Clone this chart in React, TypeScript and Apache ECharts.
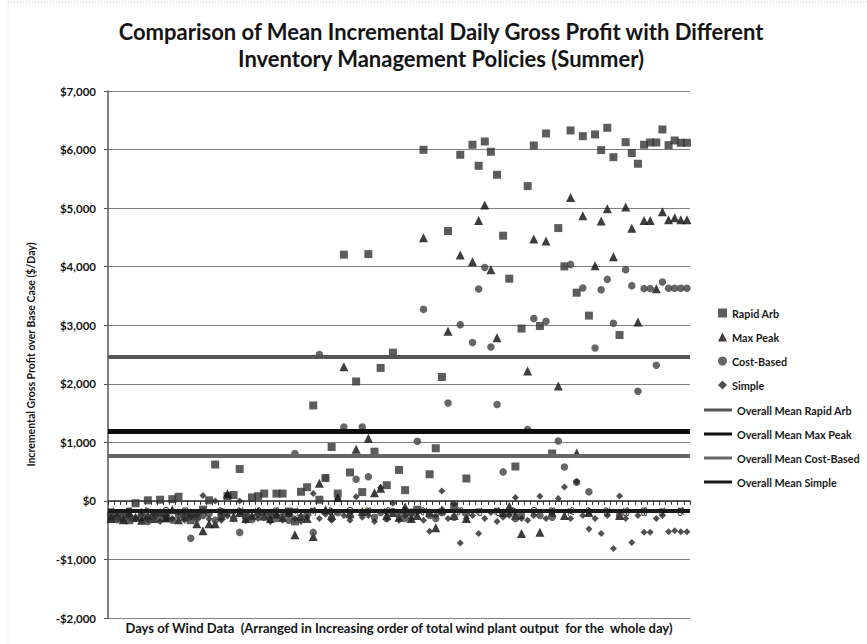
import React, { useEffect, useRef } from "react";
import * as echarts from "echarts";

const TITLE_LINES = [
  "Comparison of Mean Incremental Daily Gross Profit with Different",
  "Inventory Management Policies (Summer)",
];
const X_NAME =
  "Days of Wind Data  (Arranged in Increasing order of total wind plant output  for the  whole day)";
const Y_NAME = "Incremental Gross Profit over Base Case ($/Day)";

const DAYS = [
  "1", "2", "3", "4", "5", "6", "7", "8", "9", "10", "11", "12", "13", "14", "15", "16", "17", "18", "19", "20",
  "21", "22", "23", "24", "25", "26", "27", "28", "29", "30", "31", "32", "33", "34", "35", "36", "37", "38", "39", "40",
  "41", "42", "43", "44", "45", "46", "47", "48", "49", "50", "51", "52", "53", "54", "55", "56", "57", "58", "59", "60",
  "61", "62", "63", "64", "65", "66", "67", "68", "69", "70", "71", "72", "73", "74", "75", "76", "77", "78", "79", "80",
  "81", "82", "83", "84", "85", "86", "87", "88", "89", "90", "91", "92", "93", "94", "95",
];

const RAPID_ARB = [
  -260, -300, -240, -330, -40, -280, 10, -250, 20, -300,
  30, 70, -220, -330, -260, -150, 10, 620, -200, 80,
  100, 545, -250, 60, 80, 125, -240, 125, 125, -180,
  -350, 156, 233, 1630, 20, 390, 920, 126, 4205, 486,
  2040, 150, 4215, 840, 2270, 268, 2532, 529, 183, -200,
  -150, 5996, 455, 899, 2116, 4608, -100, 5911, 382, 6082,
  5723, 6138, 5962, 5570, 4529, 3795, 587, 2942, 5376, 6070,
  2986, 6275, 809, 4659, 4005, 6326, 3556, 6229, 3164, 6258,
  5990, 6372, 5870, 2833, 6126, 5939, 5758, 6082, 6121, 6121,
  6343, 6075, 6155, 6116, 6116,
];

const MAX_PEAK = [
  -300, -250, -320, -200, -280, -330, -240, -300, -200, -280,
  -150, -320, -260, -200, -392, -510, -392, -392, -250, 120,
  -280, -200, -300, -250, -180, -260, -300, -230, -280, -200,
  -578, -260, -300, -608, 302, -150, -250, 60, 2290, -220,
  880, -180, 1070, 140, 217, -250, -200, -280, -100, -300,
  -250, 4495, -200, -460, -150, 2896, -250, 4198, -300, 4085,
  4790, 5052, 3949, 2788, -200, -90, -250, -557, 2218, 4471,
  -534, 4437, -200, 1962, -250, 5183, 819, 4870, -200, 4017,
  4778, 4990, 4171, -250, 5017, 4654, 3055, 4790, 4790, 3625,
  4938, 4800, 4836, 4800, 4800,
];

const COST_BASED = [
  -250, -320, -200, -280, -300, -220, -350, -260, -300, -200,
  -330, -250, -280, -640, -300, -250, -220, -330, -280, -200,
  -300, -538, -250, -320, -230, -280, -200, -300, -260, -330,
  810, -280, -230, -538, 2500, 389, -300, -200, 1260, -250,
  371, 1260, 411, -280, -200, -300, -180, -250, -300, -200,
  1019, 3271, -250, -300, -200, 1670, -280, 3010, -220, 2703,
  3620, 3985, 2628, 1645, 495, -200, -300, -250, 1218, 3113,
  -250, 3066, -280, 1024, 580, 4039, 319, 3635, 154, 2611,
  3607, 3783, 3032, -250, 3949, 3676, 1872, 3625, 3625, 2316,
  3737, 3630, 3630, 3630, 3630,
];

const SIMPLE = [
  -280, -200, -330, -250, -300, -180, -320, -220, -350, -250,
  -300, -200, -330, -280, -240, 90, -310, 0, -330, -260,
  -200, 0, -340, -280, -300, -200, -350, -250, -330, -230,
  -300, -350, -280, 128, -300, -230, -330, 40, -250, -330,
  70, -280, -250, -350, 230, -300, -40, -330, -250, -300,
  -200, -330, -520, -250, 170, -300, -50, -720, -300, -250,
  -555, -300, -200, -350, -280, -250, 58, -300, -330, -250,
  80, -300, -200, 40, 239, -300, 330, -250, -480, -300,
  -555, -250, -815, 85, -300, -710, -250, -535, -535, -300,
  -250, -525, -510, -525, -525,
];

const MEAN_RAPID_ARB = 2460;
const MEAN_MAX_PEAK = 1190;
const MEAN_COST_BASED = 765;
const MEAN_SIMPLE = -160;

const Y_MIN = -2000;
const Y_MAX = 7000;
const Y_STEP = 1000;

const FONT = 'Lato, "Open Sans", "DejaVu Sans", sans-serif';

const GRID = { left: 108, right: 177, top: 91, bottom: 26 };
const CHART_H = 644;

function money(v: number): string {
  const abs = Math.abs(v).toLocaleString("en-US");
  return (v < 0 ? "-$" : "$") + abs;
}

function meanSeries(name: string, value: number, color: string, width: number) {
  return {
    name,
    type: "line",
    data: [],
    symbol: "none",
    lineStyle: { color, width },
    itemStyle: { color },
    markLine: {
      silent: true,
      symbol: ["none", "none"],
      label: { show: false },
      lineStyle: { color, width, type: "solid" },
      data: [{ yAxis: value }],
    },
  };
}

export default function App() {
  const ref = useRef<HTMLDivElement>(null);

  useEffect(() => {
    document.body.style.margin = "0";
    if (!ref.current) return;
    const chart = echarts.init(ref.current, null, { renderer: "svg" });

    // where the $0 line sits, so the category axis can cross there
    const plotH = CHART_H - GRID.top - GRID.bottom;
    const zeroOffset = ((0 - Y_MIN) / (Y_MAX - Y_MIN)) * plotH;

    const legendText = {
      fontFamily: FONT,
      fontSize: 10.8,
      fontWeight: "bold",
      color: "#1a1a1a",
      lineHeight: 14,
    };

    const option = {
      animation: false,
      backgroundColor: "#ffffff",
      textStyle: { fontFamily: FONT },
      grid: GRID,
      graphic: [
        {
          type: "line",
          shape: { x1: 8, y1: 2, x2: 8, y2: 644 },
          style: { stroke: "#bbbbbb", lineWidth: 1, lineDash: [1, 2] },
        },
        {
          type: "line",
          shape: { x1: 8, y1: 2, x2: 867, y2: 2 },
          style: { stroke: "#bbbbbb", lineWidth: 1, lineDash: [1, 2] },
        },
        {
          type: "text",
          x: 441,
          y: 31,
          style: {
            text: TITLE_LINES[0],
            align: "center",
            verticalAlign: "middle",
            fontFamily: FONT,
            fontSize: 22,
            fontWeight: "bold",
            fill: "#141414",
          },
        },
        {
          type: "text",
          x: 441,
          y: 58,
          style: {
            text: TITLE_LINES[1],
            align: "center",
            verticalAlign: "middle",
            fontFamily: FONT,
            fontSize: 22,
            fontWeight: "bold",
            fill: "#141414",
          },
        },
        {
          type: "text",
          x: 399,
          y: 628,
          style: {
            text: X_NAME,
            align: "center",
            verticalAlign: "middle",
            fontFamily: FONT,
            fontSize: 13,
            fontWeight: "bold",
            fill: "#141414",
          },
        },
      ],
      legend: [
        {
          orient: "vertical",
          left: 713,
          top: 301,
          itemWidth: 9,
          itemHeight: 9,
          itemGap: 10,
          textStyle: legendText,
          data: [
            { name: "Rapid Arb", icon: "rect" },
            { name: "Max Peak", icon: "triangle" },
            { name: "Cost-Based", icon: "circle" },
            { name: "Simple", icon: "diamond" },
          ],
        },
        {
          orient: "vertical",
          left: 699,
          top: 398,
          itemWidth: 28,
          itemHeight: 3,
          itemGap: 10,
          textStyle: legendText,
          data: [
            { name: "Overall Mean Rapid Arb", icon: "rect" },
            { name: "Overall Mean Max Peak", icon: "rect" },
            { name: "Overall Mean Cost-Based", icon: "rect" },
            { name: "Overall Mean Simple", icon: "rect" },
          ],
        },
      ],
      xAxis: {
        type: "category",
        data: DAYS,
        boundaryGap: true,
        position: "bottom",
        offset: -zeroOffset,
        axisLine: { onZero: false, lineStyle: { color: "#333333", width: 1.5 } },
        axisTick: { show: true, interval: 0, length: 4, lineStyle: { color: "#333333" } },
        axisLabel: {
          interval: 2,
          rotate: 90,
          fontSize: 8,
          fontWeight: "bold",
          color: "#333333",
          margin: 6,
          fontFamily: FONT,
        },
        splitLine: { show: false },
      },
      yAxis: {
        type: "value",
        min: Y_MIN,
        max: Y_MAX,
        interval: Y_STEP,
        name: Y_NAME,
        nameLocation: "middle",
        nameGap: 72,
        nameTextStyle: { fontFamily: FONT, fontSize: 10.5, fontWeight: "bold", color: "#141414" },
        axisLine: { show: true, lineStyle: { color: "#555555", width: 1.5 } },
        axisTick: { show: true, length: 4, lineStyle: { color: "#555555" } },
        axisLabel: {
          formatter: money,
          fontFamily: FONT,
          fontSize: 11.5,
          fontWeight: "bold",
          color: "#141414",
          margin: 12,
        },
        splitLine: { lineStyle: { color: "#808080", width: 1 } },
      },
      series: [
        {
          name: "Rapid Arb",
          type: "scatter",
          data: RAPID_ARB,
          symbol: "rect",
          symbolSize: 8,
          itemStyle: { color: "#333333" },
        },
        {
          name: "Max Peak",
          type: "scatter",
          data: MAX_PEAK,
          symbol: "triangle",
          symbolSize: 9,
          itemStyle: { color: "#0d0d0d" },
        },
        {
          name: "Cost-Based",
          type: "scatter",
          data: COST_BASED,
          symbol: "circle",
          symbolSize: 7.5,
          itemStyle: { color: "#404040" },
        },
        {
          name: "Simple",
          type: "scatter",
          data: SIMPLE,
          symbol: "diamond",
          symbolSize: 7,
          itemStyle: { color: "#262626" },
        },
        meanSeries("Overall Mean Rapid Arb", MEAN_RAPID_ARB, "#555555", 4),
        meanSeries("Overall Mean Max Peak", MEAN_MAX_PEAK, "#0d0d0d", 5),
        meanSeries("Overall Mean Cost-Based", MEAN_COST_BASED, "#666666", 4),
        meanSeries("Overall Mean Simple", MEAN_SIMPLE, "#1a1a1a", 4),
      ],
    };
    chart.setOption(option as any);
    return () => chart.dispose();
  }, []);

  return <div ref={ref} style={{ width: 867, height: 644 }} />;
}
